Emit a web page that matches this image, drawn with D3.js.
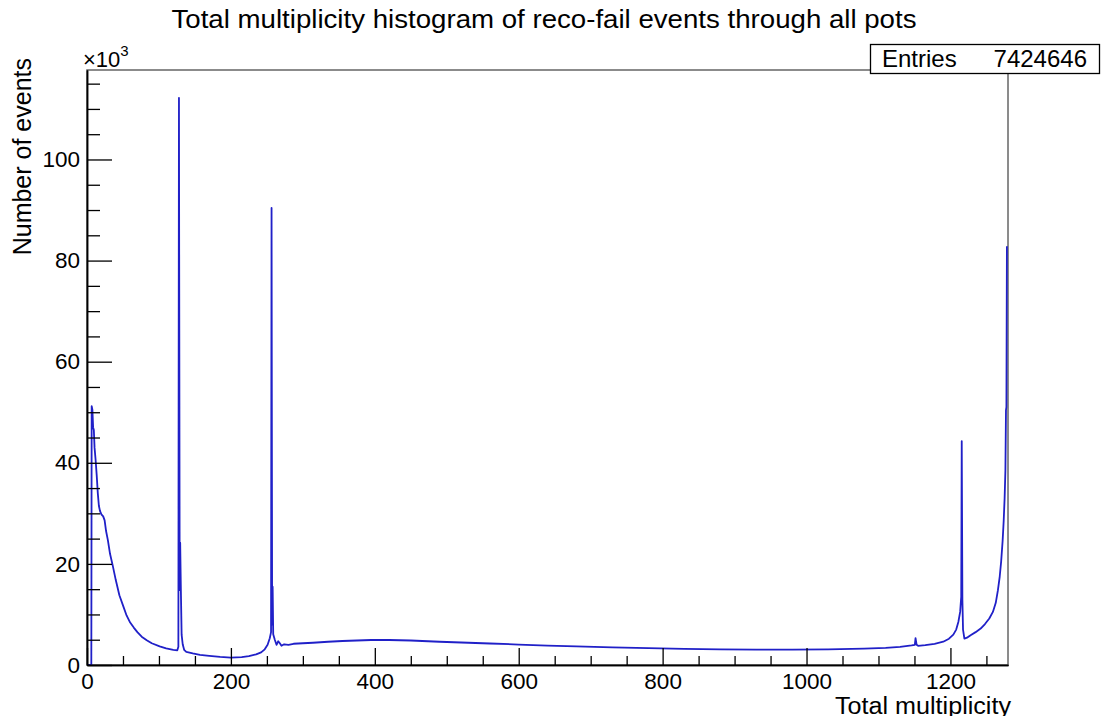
<!DOCTYPE html>
<meta charset="utf-8">
<style>
  body { margin: 0; background: #fff; }
  text { font-family: "Liberation Sans", Arial, sans-serif; fill: #000; }
</style>

<!-- Load d3.js -->
<script src="https://d3js.org/d3.v7.min.js"></script>

<div id="my_dataviz"></div>

<script>

// histogram: multiplicity and number of events (x10^3)
var multX = [0, 6, 6.5, 7.5, 8.5, 9.5, 10.5, 12, 13.5, 15, 16.5, 18, 20, 22.5, 24.5, 26.5, 29, 32, 36, 40,
  45, 50, 55, 60, 65, 70, 76, 83, 90, 101, 110, 120, 125.5, 127, 127.8, 128.8, 129.5, 130.5, 131.5, 133,
  135, 138, 147, 157, 170, 185, 200, 215, 225, 235, 242, 247, 251, 254, 255.8, 256.5, 257.3, 258, 258.8, 261,
  263.4, 265.8, 268, 270.3, 274, 280, 287, 300, 314, 335, 355, 375, 395, 420, 450, 490, 520, 560, 600, 640,
  680, 730, 780, 830, 880, 930, 980, 1030, 1080, 1110, 1130, 1146, 1150.5, 1151.5, 1153, 1155, 1165, 1178, 1190, 1198,
  1204, 1208, 1211, 1213.5, 1215, 1215.7, 1216.6, 1217.5, 1219.4, 1223, 1228, 1235, 1242, 1248, 1254, 1259, 1263, 1266, 1268.5, 1270.5,
  1272.5, 1274, 1275.3, 1276.4, 1277.2, 1277.8, 1278.5, 1279.5];
var eventsK = [0, 0, 51.2, 50.5, 47, 46.5, 43, 40.5, 37.5, 34, 31.5, 30.5, 29.8, 29.4, 28.6, 26.5, 24.7, 22, 19.5, 16.8,
  13.8, 11.8, 9.8, 8.4, 7.4, 6.5, 5.6, 4.9, 4.3, 3.7, 3.3, 3.0, 2.9, 3.6, 112.2, 14.8, 24.2, 14.5, 6.0, 4.1,
  3.0, 2.6, 2.3, 2.0, 1.8, 1.6, 1.45, 1.55, 1.75, 2.1, 2.5, 3.1, 4.0, 5.3, 6.5, 90.4, 8, 15.5, 6.1, 5.0,
  4.0, 4.7, 4.3, 3.8, 4.1, 4.0, 4.2, 4.3, 4.4, 4.6, 4.75, 4.85, 4.95, 4.95, 4.85, 4.6, 4.45, 4.25, 4.05, 3.85,
  3.7, 3.5, 3.35, 3.2, 3.1, 3.05, 3.05, 3.1, 3.25, 3.4, 3.6, 3.9, 4.0, 5.3, 4.0, 3.8, 3.95, 4.2, 4.6, 5.2,
  6.0, 7.0, 8.5, 10.5, 13.5, 44.3, 13, 7.0, 5.2, 5.4, 5.9, 6.5, 7.2, 8.1, 9.2, 10.5, 12.3, 14.8, 17.5, 20.5,
  24.5, 28.5, 33, 38.5, 50.4, 51, 82.7, 82.7];

var xMajor = [0, 200, 400, 600, 800, 1000, 1200];
var xMinor = [50, 100, 150, 250, 300, 350, 450, 500, 550, 650, 700, 750, 850, 900, 950, 1050, 1100, 1150, 1250];
var yMajor = [0, 20, 40, 60, 80, 100];
var yMinor = [5, 10, 15, 25, 30, 35, 45, 50, 55, 65, 70, 75, 85, 90, 95, 105, 110, 115];

var entries = "7424646";

// set the dimensions and margins of the graph
var margin = {top: 70, right: 93, bottom: 51, left: 87},
    width = 1101 - margin.left - margin.right,
    height = 716 - margin.top - margin.bottom;

var root = d3.select("#my_dataviz")
  .append("svg")
    .attr("width", 1101)
    .attr("height", 716);

var svg = root.append("g")
    .attr("transform", "translate(" + margin.left + "," + margin.top + ")");

var x = d3.scaleLinear()
  .domain([0, 1280])
  .range([0, width]);

var y = d3.scaleLinear()
  .domain([0, 117.7])
  .range([height, 0]);

// frame
svg.append("rect")
  .attr("width", width)
  .attr("height", height)
  .attr("fill", "none")
  .attr("stroke", "#666")
  .attr("stroke-width", 1.5);

// histogram line
svg.append("path")
  .datum(d3.range(multX.length))
  .attr("fill", "none")
  .attr("stroke", "#2020c8")
  .attr("stroke-width", 1.8)
  .attr("stroke-linejoin", "round")
  .attr("d", d3.line()
    .x(function(i) { return x(multX[i]); })
    .y(function(i) { return y(eventsK[i]); })
  );

// X axis, ticks point inward
svg.append("g")
  .attr("transform", "translate(0," + height + ")")
  .call(d3.axisBottom(x).tickValues(xMajor).tickSizeInner(-17).tickSizeOuter(0).tickPadding(8).tickFormat(d3.format("d")));
svg.append("g")
  .attr("transform", "translate(0," + height + ")")
  .call(d3.axisBottom(x).tickValues(xMinor).tickSizeInner(-9).tickSizeOuter(0).tickFormat(""));

// Y axis
svg.append("g")
  .call(d3.axisLeft(y).tickValues(yMajor).tickSizeInner(-25).tickSizeOuter(0).tickPadding(7).tickFormat(d3.format("d")));
svg.append("g")
  .call(d3.axisLeft(y).tickValues(yMinor).tickSizeInner(-13).tickSizeOuter(0).tickFormat(""));

svg.selectAll(".domain").attr("stroke", "#000").attr("stroke-width", 1.5);
svg.selectAll(".tick line").attr("stroke", "#000").attr("stroke-width", 1.3);
svg.selectAll(".tick text")
  .style("font-family", "Liberation Sans, Arial, sans-serif")
  .style("font-size", "22.5px");

// exponent label
var expo = root.append("text")
  .attr("x", 83)
  .attr("y", 67)
  .style("font-size", "22px");
expo.append("tspan").text("\u00d710");
expo.append("tspan").attr("dy", -11).style("font-size", "15px").text("3");

// title
root.append("text")
  .attr("x", 544)
  .attr("y", 28)
  .attr("text-anchor", "middle")
  .attr("textLength", 745)
  .attr("lengthAdjust", "spacingAndGlyphs")
  .style("font-size", "25px")
  .text("Total multiplicity histogram of reco-fail events through all pots");

// axis titles
root.append("text")
  .attr("x", 1011)
  .attr("y", 714)
  .attr("text-anchor", "end")
  .attr("textLength", 176)
  .attr("lengthAdjust", "spacingAndGlyphs")
  .style("font-size", "23px")
  .text("Total multiplicity");

root.append("text")
  .attr("transform", "translate(31,58) rotate(-90)")
  .attr("text-anchor", "end")
  .style("font-size", "25px")
  .text("Number of events");

// stats box
root.append("rect")
  .attr("x", 870.5)
  .attr("y", 44.5)
  .attr("width", 229)
  .attr("height", 29)
  .attr("fill", "#fff")
  .attr("stroke", "#000")
  .attr("stroke-width", 1.3);
root.append("text")
  .attr("x", 882)
  .attr("y", 67)
  .style("font-size", "24px")
  .text("Entries");
root.append("text")
  .attr("x", 1087)
  .attr("y", 67)
  .attr("text-anchor", "end")
  .style("font-size", "24px")
  .text(entries);

</script>
